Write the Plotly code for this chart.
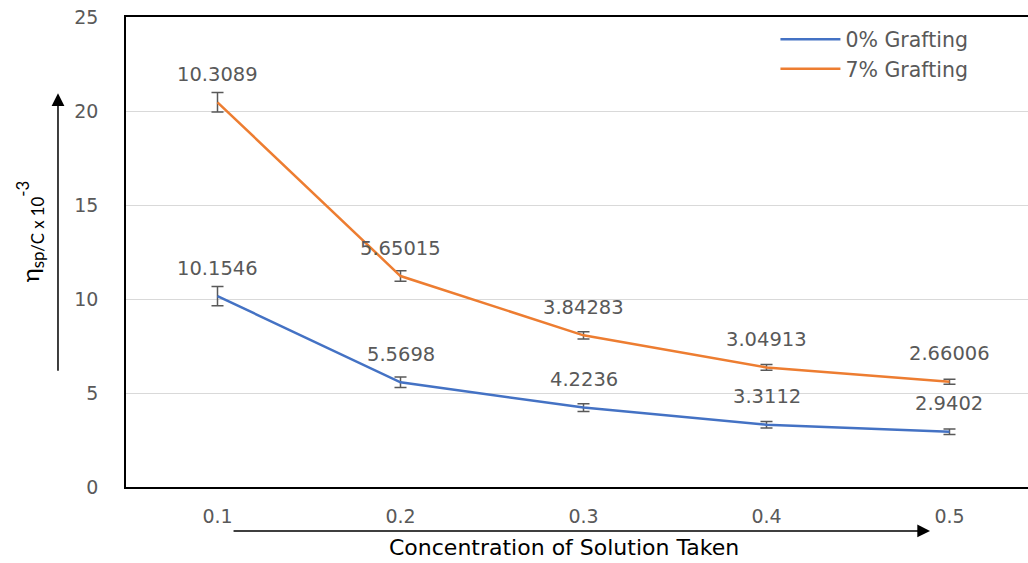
import plotly.graph_objects as go

# Concentration of solution (x axis categories)
concentration = [0.1, 0.2, 0.3, 0.4, 0.5]
tick_labels = ["0.1", "0.2", "0.3", "0.4", "0.5"]

# Reduced viscosity values for each grafting level
grafting_0 = [10.1546, 5.5698, 4.2236, 3.3112, 2.9402]
grafting_7 = [10.3089, 5.65015, 3.84283, 3.04913, 2.66006]

# Error bar half-widths
err_0 = [0.51, 0.28, 0.21, 0.17, 0.15]
err_7 = [0.52, 0.28, 0.19, 0.15, 0.13]

BLUE = "#4472C4"
ORANGE = "#ED7D31"
GRAY = "#595959"

# The 7% series is stacked on top of the 0% series
stacked_7 = [a + b for a, b in zip(grafting_0, grafting_7)]

fig = go.Figure()

fig.add_trace(go.Scatter(
    x=concentration, y=grafting_0, mode="lines", name="0% Grafting",
    line=dict(color=BLUE, width=2.5),
    error_y=dict(type="data", array=err_0, visible=True,
                 color=GRAY, thickness=1.5, width=6),
))
fig.add_trace(go.Scatter(
    x=concentration, y=stacked_7, mode="lines", name="7% Grafting",
    line=dict(color=ORANGE, width=2.5),
    error_y=dict(type="data", array=err_7, visible=True,
                 color=GRAY, thickness=1.5, width=6),
))

label_font = dict(family="DejaVu Sans", size=19.5, color=GRAY)
annotations = []
for xs, ys, vals in ((concentration, grafting_0, grafting_0),
                     (concentration, stacked_7, grafting_7)):
    for x, y, v in zip(xs, ys, vals):
        annotations.append(dict(
            x=x, y=y, xref="x", yref="y", text=str(v), showarrow=False,
            yshift=28, yanchor="middle", xanchor="center", font=label_font,
        ))

# Y-axis title (rotated)
annotations.append(dict(
    x=-0.107, y=0.545, xref="paper", yref="paper",
    text="η<sub>sp/C x 10</sub><sup>-3</sup>", textangle=-90,
    showarrow=False, xanchor="center", yanchor="middle",
    font=dict(family="Lato", size=24, color="#000000"),
))
# X-axis title
annotations.append(dict(
    x=0.4856, y=-0.129, xref="paper", yref="paper",
    text="Concentration of Solution Taken", showarrow=False,
    xanchor="center", yanchor="middle",
    font=dict(family="DejaVu Sans", size=22, color="#000000"),
))
# Direction arrows beside the axes
annotations.append(dict(
    x=-0.0754, y=0.838, xref="paper", yref="paper", text="",
    showarrow=True, ax=0, ay=279, axref="pixel", ayref="pixel",
    arrowhead=2, arrowsize=1.7, arrowwidth=1.5, arrowcolor="#000000",
))
annotations.append(dict(
    x=0.8914, y=-0.0936, xref="paper", yref="paper", text="",
    showarrow=True, ax=-698, ay=0, axref="pixel", ayref="pixel",
    arrowhead=2, arrowsize=1.7, arrowwidth=1.5, arrowcolor="#000000",
))

fig.update_layout(
    width=1028, height=563,
    margin=dict(l=126, r=0, t=17, b=76),
    paper_bgcolor="white", plot_bgcolor="white",
    annotations=annotations,
    legend=dict(
        x=0.72, y=0.995, xanchor="left", yanchor="top",
        font=dict(family="DejaVu Sans", size=20.5, color=GRAY),
        bgcolor="rgba(0,0,0,0)", itemwidth=60,
    ),
    xaxis=dict(
        range=[0.05, 0.5429], tickmode="array",
        tickvals=concentration, ticktext=tick_labels,
        showgrid=False, zeroline=False,
        showline=True, linecolor="#000000", linewidth=1.5, mirror=True,
        ticks="", ticklabelstandoff=11,
        tickfont=dict(family="DejaVu Sans", size=19, color=GRAY),
    ),
    yaxis=dict(
        range=[0, 25], tickmode="array", tickvals=[0, 5, 10, 15, 20, 25],
        showgrid=True, gridcolor="#D9D9D9", gridwidth=1, zeroline=False,
        showline=True, linecolor="#000000", linewidth=1.5, mirror=False,
        ticks="", ticklabelstandoff=22,
        tickfont=dict(family="DejaVu Sans", size=19, color=GRAY),
    ),
)

fig.write_html("out.html")
